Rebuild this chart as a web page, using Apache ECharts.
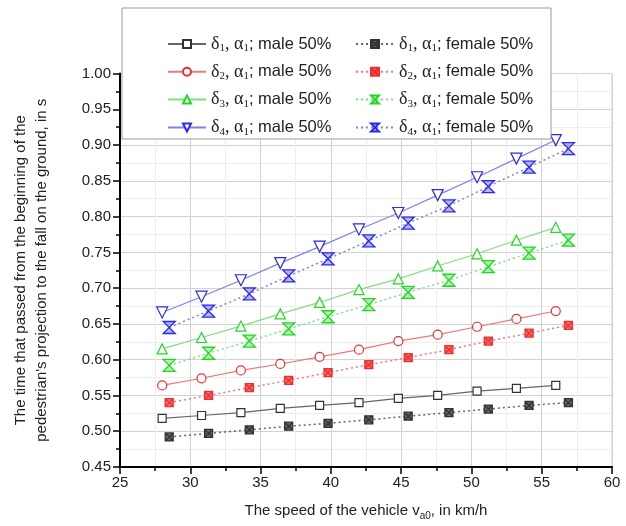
<!DOCTYPE html>
<html>
<head>
<meta charset="utf-8">
<script src="https://cdn.jsdelivr.net/npm/echarts@6/dist/echarts.min.js"></script>
<style>
  html, body { margin: 0; padding: 0; background: #fff; }
  #chart { width: 626px; height: 526px; }
</style>
</head>
<body>
<div id="chart"></div>
<script>
// speeds (km/h) of the points, male and female series are shifted a bit
const maleSpeed = [28, 30.8, 33.6, 36.4, 39.2, 42, 44.8, 47.6, 50.4, 53.2, 56];
const femaleSpeed = [28.5, 31.3, 34.2, 37.0, 39.8, 42.7, 45.5, 48.4, 51.2, 54.1, 56.9];

// time values, s
const d1Male = [0.518, 0.522, 0.526, 0.532, 0.536, 0.540, 0.546, 0.550, 0.556, 0.560, 0.564];
const d2Male = [0.564, 0.574, 0.585, 0.594, 0.604, 0.614, 0.626, 0.635, 0.646, 0.657, 0.668];
const d3Male = [0.615, 0.631, 0.647, 0.664, 0.680, 0.698, 0.713, 0.731, 0.748, 0.767, 0.785];
const d4Male = [0.666, 0.688, 0.711, 0.735, 0.758, 0.782, 0.805, 0.830, 0.855, 0.881, 0.907];
const d1Female = [0.492, 0.497, 0.502, 0.507, 0.511, 0.516, 0.521, 0.526, 0.531, 0.536, 0.540];
const d2Female = [0.540, 0.550, 0.561, 0.571, 0.582, 0.593, 0.603, 0.614, 0.626, 0.637, 0.648];
const d3Female = [0.592, 0.609, 0.626, 0.643, 0.660, 0.677, 0.694, 0.711, 0.730, 0.749, 0.767];
const d4Female = [0.645, 0.668, 0.692, 0.717, 0.741, 0.766, 0.791, 0.815, 0.842, 0.869, 0.895];

const maleNames = ['δ1, α1; male 50%', 'δ2, α1; male 50%', 'δ3, α1; male 50%', 'δ4, α1; male 50%'];
const femaleNames = ['δ1, α1; female 50%', 'δ2, α1; female 50%', 'δ3, α1; female 50%', 'δ4, α1; female 50%'];

const symColor = ['#333333', '#ee3030', '#22d822', '#2a2ae8'];
const lineColor = ['#666666', '#f07878', '#7ee07e', '#8080ee'];

const hexToRgba = (hex, a) => {
    return `rgba(${parseInt(hex.slice(1, 3), 16)},${parseInt(hex.slice(3, 5), 16)},${parseInt(hex.slice(5, 7), 16)},${a})`;
};

const pairs = (xs, ys) => xs.map((x, i) => [x, ys[i]]);

const downTri = 'path://M0,0 L10,0 L5,9 Z';
const crossSquare = 'path://M0,0 L10,0 L10,10 L0,10 Z M0,0 L10,10 M10,0 L0,10';
const hourglass = 'path://M0,0 L10,0 L0,10 L10,10 Z';
const maleSymbols = ['rect', 'circle', 'triangle', downTri];
const maleSizes = [8, 9, 10, 11];
const femaleSymbols = [crossSquare, crossSquare, hourglass, hourglass];
const femaleSizes = [8, 8, 12, 12];
const femaleFill = [0.75, 0.7, 0.35, 0.35];

const maleData = [d1Male, d2Male, d3Male, d4Male];
const femaleData = [d1Female, d2Female, d3Female, d4Female];

let series = [];
maleData.forEach((d, i) => {
    series.push({
        name: maleNames[i],
        type: 'line',
        data: pairs(maleSpeed, d),
        symbol: maleSymbols[i],
        symbolSize: maleSizes[i],
        z: 3,
        itemStyle: { color: '#fff', borderColor: symColor[i], borderWidth: 1.2 },
        lineStyle: { color: lineColor[i], width: 1.2 }
    });
});
femaleData.forEach((d, i) => {
    series.push({
        name: femaleNames[i],
        type: 'line',
        data: pairs(femaleSpeed, d),
        symbol: femaleSymbols[i],
        symbolSize: femaleSizes[i],
        z: 3,
        itemStyle: { color: hexToRgba(symColor[i], femaleFill[i]), borderColor: symColor[i], borderWidth: 1.3 },
        lineStyle: { color: lineColor[i], width: 1.5, type: [2, 3] }
    });
});

// subscripts for the greek letters
const legendFmt = name => {
    const m = name.match(/^δ(\d), α(\d); (.*)$/);
    return `{g|δ}{s|${m[1]}}{g|, α}{s|${m[2]}}{t|; ${m[3]}}`;
};
const legendRich = {
    g: { fontFamily: 'Liberation Serif', fontSize: 18, color: '#222', lineHeight: 18 },
    s: { fontFamily: 'Liberation Serif', fontSize: 11, color: '#222', lineHeight: 18, padding: [9, 0, 0, 0] },
    t: { fontFamily: 'Liberation Sans', fontSize: 16.5, color: '#222', lineHeight: 18 }
};
const legendBase = {
    orient: 'vertical',
    top: 34,
    padding: 0,
    itemWidth: 38,
    itemHeight: 10,
    itemGap: 7.8,
    formatter: legendFmt,
    textStyle: { rich: legendRich, padding: [0, 0, 0, 0] },
    z: 10
};

const chart = echarts.init(document.getElementById('chart'));
chart.setOption({
    backgroundColor: '#fff',
    animation: false,
    grid: {
        left: 120, right: 14, top: 73.5, bottom: 58,
        show: true, borderColor: '#cfcfcf', borderWidth: 1
    },
    graphic: [{
        type: 'rect',
        shape: { x: 122, y: 8, width: 429, height: 131 },
        style: { fill: '#fff', stroke: '#9a9a9a', lineWidth: 1 },
        z: 9
    }],
    legend: [
        Object.assign({}, legendBase, { left: 167, data: maleNames }),
        Object.assign({}, legendBase, { left: 355, data: femaleNames })
    ],
    xAxis: {
        type: 'value',
        min: 25, max: 60, interval: 5,
        name: '{a|The speed of the vehicle v}{s|a0}{a|, in km/h}',
        nameLocation: 'middle',
        nameGap: 34,
        nameTextStyle: {
            rich: {
                a: { fontFamily: 'Liberation Sans', fontSize: 15, color: '#222' },
                s: { fontFamily: 'Liberation Sans', fontSize: 10, color: '#222', padding: [10, 0, 0, 0] }
            }
        },
        axisLine: { lineStyle: { color: '#000', width: 2 } },
        axisTick: { length: 7, lineStyle: { color: '#000', width: 1.5 } },
        minorTick: { show: true, splitNumber: 2, length: 4, lineStyle: { color: '#000', width: 1.5 } },
        axisLabel: { fontFamily: 'Liberation Sans', fontSize: 15, color: '#222', margin: 8 },
        splitLine: { lineStyle: { color: '#d2d2d2', width: 1 } },
        minorSplitLine: { show: true, lineStyle: { color: '#ededed', width: 1 } }
    },
    yAxis: {
        type: 'value',
        min: 0.45, max: 1.0, interval: 0.05,
        name: 'The time that passed from the beginning of the\npedestrian\'s projection to the fall on the ground, in s',
        nameLocation: 'middle',
        nameGap: 68,
        nameTextStyle: { fontFamily: 'Liberation Sans', fontSize: 15, color: '#222', lineHeight: 21 },
        axisLine: { lineStyle: { color: '#000', width: 2 } },
        axisTick: { length: 7, lineStyle: { color: '#000', width: 1.5 } },
        minorTick: { show: true, splitNumber: 2, length: 4, lineStyle: { color: '#000', width: 1.5 } },
        axisLabel: {
            fontFamily: 'Liberation Sans', fontSize: 15, color: '#222', margin: 9,
            formatter: v => v.toFixed(2)
        },
        splitLine: { lineStyle: { color: '#d2d2d2', width: 1 } },
        minorSplitLine: { show: true, lineStyle: { color: '#ededed', width: 1 } }
    },
    series: series
});
</script>
</body>
</html>
